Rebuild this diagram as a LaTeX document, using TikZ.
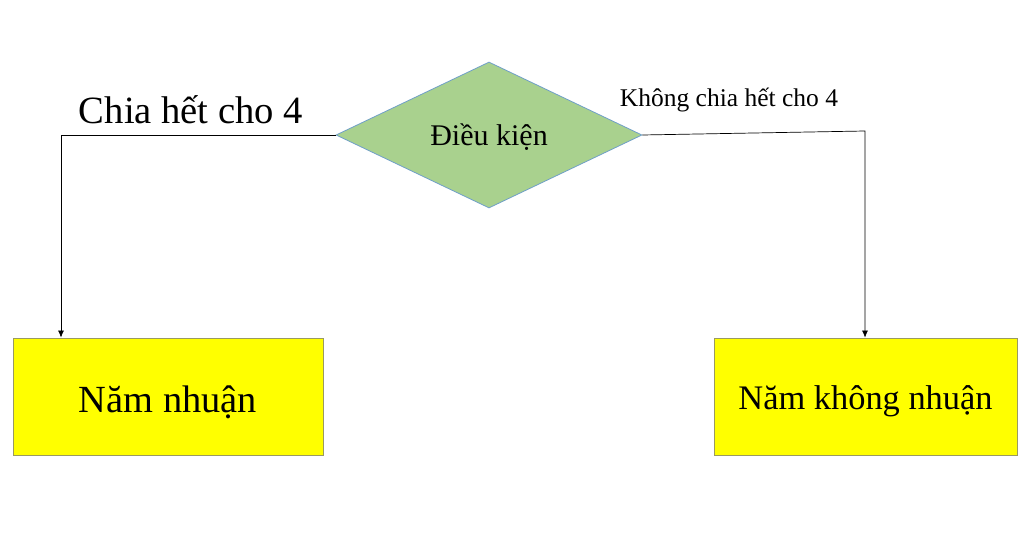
\documentclass[tikz,border=0pt]{standalone}
\usepackage{fontspec}
\setmainfont{Liberation Serif}
\usetikzlibrary{shapes.geometric,arrows.meta}
\definecolor{dgreen}{HTML}{A9D18E}
\definecolor{dborder}{HTML}{6F9FC8}
\definecolor{byellow}{HTML}{FFFF00}
\definecolor{bborder}{HTML}{9A9A60}
\tikzset{
  x=1pt, y=-1pt,
  decision/.style={diamond, fill=dgreen, draw=dborder, line width=0.8pt, minimum width=306pt, minimum height=146pt, inner sep=0pt},
  resultbox/.style={rectangle, fill=byellow, draw=bborder, line width=0.8pt, inner sep=0pt, minimum height=117pt},
  conn/.style={draw=black, line width=0.7pt, -{Latex[length=7pt,width=6pt]}},
  lbl/.style={inner sep=0pt, anchor=center}
}
\begin{document}
\begin{tikzpicture}
\useasboundingbox (0,0) rectangle (1024,553);
\fill[white] (0,0) rectangle (1024,553);
\node[decision] (cond) at (489,135) {};
\node[lbl, font=\fontsize{30}{34}\selectfont] (condt) at ([yshift=-2pt]cond.center) {Điều kiện};
\node[resultbox, minimum width=310pt] (yes) at (168,396.5) {};
\node[lbl, font=\fontsize{38.4}{42}\selectfont] (yest) at ([yshift=-5.5pt]yes.center) {Năm nhuận};
\node[resultbox, minimum width=303pt] (no) at (865.5,396.5) {};
\node[lbl, font=\fontsize{34.4}{38}\selectfont] (not) at ([yshift=-5pt]no.center) {Năm không nhuận};
\coordinate (lc) at (61,135);
\coordinate (rc) at (865,131);
\draw[conn] (cond.west) -- (lc) -- (yes.north -| lc);
\draw[conn] (cond.east) -- (rc) -- (no.north -| rc);
\node[lbl, font=\fontsize{38.6}{42}\selectfont] (l1) at (191,110) {Chia hết cho 4};
\node[lbl, font=\fontsize{25.5}{29}\selectfont] (l2) at (729,100) {Không chia hết cho 4};
\end{tikzpicture}
\end{document}
